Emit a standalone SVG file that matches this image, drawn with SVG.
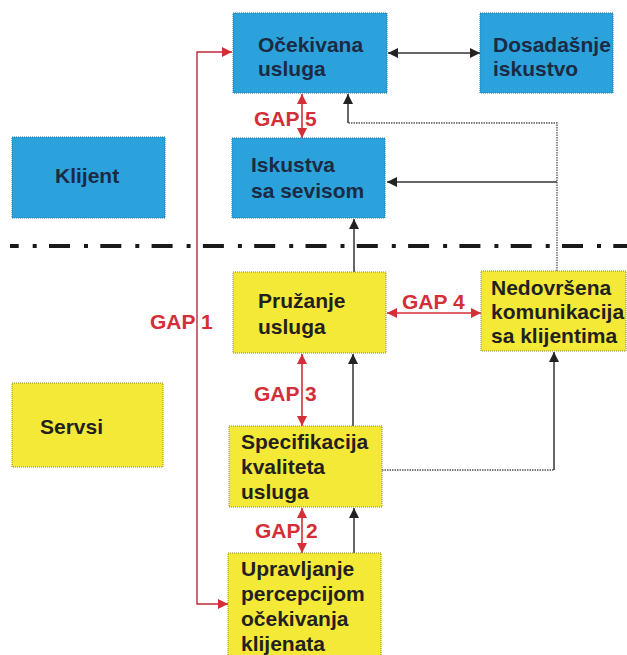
<svg xmlns="http://www.w3.org/2000/svg" width="627" height="655" viewBox="0 0 627 655">
<defs>
<style>
.blue{fill:#2ba2dc;stroke:#1d78a8;stroke-width:1;stroke-dasharray:1 1}
.yel{fill:#f3e936;stroke:#8c8a30;stroke-width:1;stroke-dasharray:1 1}
.t{font-family:"Liberation Sans",Arial,sans-serif;font-weight:bold;font-size:21px}
.tb{fill:#1c2a44}
.ty{fill:#231f20}
.gap{font-family:"Liberation Sans",Arial,sans-serif;font-weight:bold;font-size:21px;fill:#d42e37}
.red{stroke:#d42e37;stroke-width:1.6;fill:none}
.red1{stroke:#c0283a;stroke-width:1.4;fill:none}
.blk{stroke:#333;stroke-width:1.5;fill:none}
.dot{stroke:#555;stroke-width:1.3;fill:none;stroke-dasharray:1.5 1}
</style>
<marker id="ab" viewBox="0 0 10 10" refX="10" refY="5" markerWidth="10" markerHeight="10" markerUnits="userSpaceOnUse" orient="auto-start-reverse"><path d="M0,0 L10,5 L0,10 z" fill="#222"/></marker>
<marker id="ar" viewBox="0 0 10 10" refX="10" refY="5" markerWidth="10" markerHeight="10" markerUnits="userSpaceOnUse" orient="auto-start-reverse"><path d="M0,0 L10,5 L0,10 z" fill="#d42e37"/></marker>
</defs>
<rect width="627" height="655" fill="#ffffff"/>
<line x1="10" y1="246" x2="627" y2="246" stroke="#1a1a1a" stroke-width="4" stroke-dasharray="21 14 4 12.3" stroke-dashoffset="12.3"/>
<g id="connectors">
<line class="blk" x1="388" y1="53" x2="480" y2="53" marker-start="url(#ab)" marker-end="url(#ab)"/>
<line class="blk" x1="354" y1="272" x2="354" y2="219" marker-end="url(#ab)"/>
<line class="blk" x1="353" y1="426" x2="353" y2="354" marker-end="url(#ab)"/>
<line class="blk" x1="354" y1="553" x2="354" y2="508" marker-end="url(#ab)"/>
<polyline class="dot" points="382,470 554,470"/>
<line class="blk" x1="554" y1="470" x2="554" y2="352" stroke="#444" marker-end="url(#ab)"/>
<polyline class="dot" points="557,271 557,123 348,123"/>
<line class="blk" x1="348" y1="123" x2="348" y2="94" marker-end="url(#ab)"/>
<line class="blk" x1="557" y1="182" x2="387" y2="182" stroke="#555" marker-end="url(#ab)"/>
<polyline class="red1" points="232,52 197,52 197,604 228,604" marker-start="url(#ar)" marker-end="url(#ar)"/>
<line class="red" x1="302" y1="94" x2="302" y2="138" marker-start="url(#ar)" marker-end="url(#ar)"/>
<line class="red" x1="387" y1="313" x2="481" y2="313" marker-start="url(#ar)" marker-end="url(#ar)"/>
<line class="red" x1="302" y1="354" x2="302" y2="426" marker-start="url(#ar)" marker-end="url(#ar)"/>
<line class="red" x1="302" y1="508" x2="302" y2="553" marker-start="url(#ar)" marker-end="url(#ar)"/>
<text class="gap" x="254" y="126">GAP 5</text>
<text class="gap" x="150" y="329">GAP 1</text>
<text class="gap" x="402" y="309">GAP 4</text>
<text class="gap" x="254" y="401">GAP 3</text>
<text class="gap" x="255" y="538">GAP 2</text>
</g>
<g id="ocekivana"><rect class="blue" x="233" y="13" width="154" height="80"/><text class="t tb" x="258" y="52">Očekivana</text><text class="t tb" x="258" y="76">usluga</text></g>
<g id="dosadasnje"><rect class="blue" x="480" y="13" width="133" height="80"/><text class="t tb" x="493" y="52">Dosadašnje</text><text class="t tb" x="493" y="76">iskustvo</text></g>
<g id="klijent"><rect class="blue" x="12" y="137" width="153" height="81"/><text class="t tb" x="55" y="183">Klijent</text></g>
<g id="iskustva"><rect class="blue" x="232" y="138" width="153" height="80"/><text class="t tb" x="251" y="172">Iskustva</text><text class="t tb" x="251" y="198">sa sevisom</text></g>
<g id="pruzanje"><rect class="yel" x="233" y="272" width="153" height="81"/><text class="t ty" x="258" y="308">Pružanje</text><text class="t ty" x="258" y="334">usluga</text></g>
<g id="nedovrsena"><rect class="yel" x="481" y="271" width="145" height="80"/><text class="t ty" x="491" y="295">Nedovršena</text><text class="t ty" x="491" y="319">komunikacija</text><text class="t ty" x="491" y="343">sa klijentima</text></g>
<g id="servsi"><rect class="yel" x="12" y="383" width="151" height="84"/><text class="t ty" x="40" y="434">Servsi</text></g>
<g id="specifikacija"><rect class="yel" x="229" y="426" width="153" height="81"/><text class="t ty" x="241" y="449">Specifikacija</text><text class="t ty" x="241" y="474">kvaliteta</text><text class="t ty" x="241" y="499">usluga</text></g>
<g id="upravljanje"><rect class="yel" x="228" y="553" width="153" height="110"/><text class="t ty" x="241" y="576">Upravljanje</text><text class="t ty" x="241" y="601">percepcijom</text><text class="t ty" x="241" y="626">očekivanja</text><text class="t ty" x="241" y="651">klijenata</text></g>
</svg>
